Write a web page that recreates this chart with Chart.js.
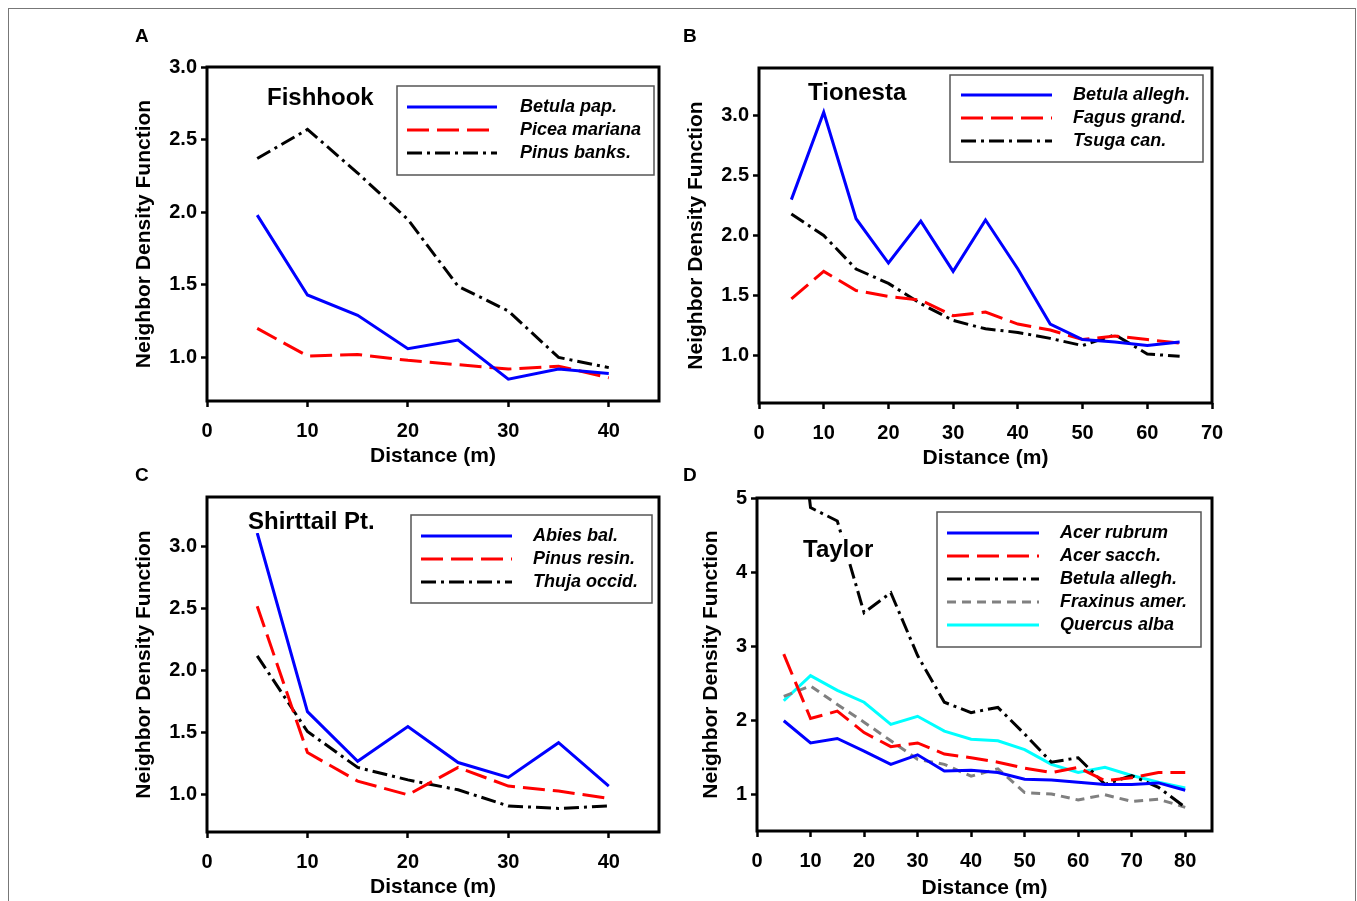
<!DOCTYPE html>
<html><head><meta charset="utf-8">
<script src="https://cdn.jsdelivr.net/npm/chart.js@4.4.0/dist/chart.umd.min.js"></script>
<style>
body{margin:0;background:#fff;}
#wrap{position:relative;width:1357px;height:901px;overflow:hidden;font-family:'Liberation Sans',Arial,sans-serif;background:#fff;}
canvas{position:absolute;left:0;top:0;}
.frame{position:absolute;left:8px;top:8px;width:1346px;height:900px;border:1px solid #777;border-bottom:none;}
.lab{position:absolute;font-weight:bold;color:#000;line-height:1;white-space:nowrap;}
.ttl{background:#fff;padding:0 1px;}
</style></head><body>
<div id="wrap">
<div class="frame"></div>
<canvas id="cA" width="1357" height="901"></canvas>
<canvas id="cB" width="1357" height="901"></canvas>
<canvas id="cC" width="1357" height="901"></canvas>
<canvas id="cD" width="1357" height="901"></canvas>
<div class="lab" style="left:135px;top:26px;font-size:19px">A</div>
<div class="lab" style="left:683px;top:26px;font-size:19px">B</div>
<div class="lab" style="left:135px;top:465px;font-size:19px">C</div>
<div class="lab" style="left:683px;top:465px;font-size:19px">D</div>
<div class="lab ttl" style="left:266px;top:85px;font-size:24px">Fishhook</div>
<div class="lab ttl" style="left:807px;top:80px;font-size:24px">Tionesta</div>
<div class="lab ttl" style="left:247px;top:509px;font-size:24px">Shirttail Pt.</div>
<div class="lab ttl" style="left:802px;top:537px;font-size:24px">Taylor</div>
</div>
<script>
// ---------- DATA ----------
const distA = [5,10,15,20,25,30,35,40];
const betulaPapA   = [1.98,1.43,1.29,1.06,1.12,0.85,0.92,0.89];
const piceaMarA    = [1.20,1.01,1.02,0.98,0.95,0.92,0.94,0.86];
const pinusBanksA  = [2.37,2.57,2.27,1.95,1.49,1.32,1.00,0.93];

const distB = [5,10,15,20,25,30,35,40,45,50,55,60,65];
const betulaAlleghB = [2.30,3.03,2.14,1.77,2.12,1.70,2.13,1.72,1.26,1.13,1.11,1.08,1.11];
const fagusGrandB   = [1.47,1.70,1.54,1.49,1.46,1.33,1.36,1.26,1.21,1.13,1.16,1.13,1.10];
const tsugaCanB     = [2.18,2.00,1.72,1.60,1.43,1.29,1.22,1.19,1.14,1.08,1.17,1.01,0.99];

const distC = [5,10,15,20,25,30,35,40];
const abiesBalC   = [3.11,1.67,1.27,1.55,1.26,1.14,1.42,1.07];
const pinusResinC = [2.52,1.34,1.11,1.00,1.22,1.07,1.03,0.97];
const thujaOccC   = [2.12,1.51,1.22,1.12,1.04,0.91,0.89,0.91];

const distD = [5,10,15,20,25,30,35,40,45,50,55,60,65,70,75,80];
const acerRubrumD  = [1.99,1.69,1.75,1.58,1.40,1.53,1.31,1.32,1.29,1.20,1.19,1.16,1.13,1.13,1.15,1.05];
const acerSacchD   = [2.89,2.02,2.12,1.83,1.64,1.69,1.54,1.49,1.43,1.35,1.29,1.36,1.18,1.22,1.29,1.29];
const betulaAlleghD= [8.0,4.87,4.69,3.45,3.72,2.87,2.24,2.10,2.17,1.81,1.43,1.49,1.13,1.25,1.09,0.82];
const fraxinusD    = [2.32,2.46,2.21,1.97,1.72,1.47,1.40,1.24,1.34,1.02,1.00,0.92,0.99,0.90,0.93,0.82];
const quercusD     = [2.26,2.60,2.40,2.24,1.94,2.05,1.85,1.74,1.72,1.60,1.40,1.29,1.36,1.25,1.16,1.08];

// ---------- STYLE ----------
Chart.defaults.font.family = "'Liberation Sans', Arial, sans-serif";
Chart.defaults.font.weight = 'bold';
Chart.defaults.color = '#000';

const BLUE='#0000ff', RED='#ff0000', BLACK='#000000', GRAY='#808080', CYAN='#00ffff';
const DASH=[22,8], DASHDOT=[15,5,3,5], SHORTDASH=[9,6];

function pts(xs, ys){ return xs.map((x,i)=>({x:x, y:ys[i]})); }
function ds(label, xs, ys, color, dash){
  return {label, data: pts(xs,ys), borderColor: color, backgroundColor: color,
          borderDash: dash||[], borderWidth: 3, pointRadius: 0, tension: 0, fill: false};
}

const framePlugin = {
  id: 'frameBox',
  afterDatasetsDraw(chart){
    const a = chart.chartArea, ctx = chart.ctx;
    ctx.save(); ctx.strokeStyle = '#000'; ctx.lineWidth = 3; ctx.setLineDash([]);
    ctx.strokeRect(a.left, a.top, a.right - a.left, a.bottom - a.top);
    ctx.restore();
  }
};
const legendPlugin = {
  id: 'boxLegend',
  afterDraw(chart, args, o){
    const ctx = chart.ctx;
    ctx.save();
    ctx.fillStyle = '#fff'; ctx.fillRect(o.x, o.y, o.w, o.h);
    ctx.strokeStyle = '#555'; ctx.lineWidth = 1.5; ctx.setLineDash([]);
    ctx.strokeRect(o.x, o.y, o.w, o.h);
    chart.data.datasets.forEach((d, i) => {
      const y = o.row0 + i * o.gap;
      ctx.beginPath(); ctx.setLineDash(d.borderDash || []);
      ctx.strokeStyle = d.borderColor; ctx.lineWidth = 3;
      ctx.moveTo(o.lx0, y); ctx.lineTo(o.lx1, y); ctx.stroke();
      ctx.setLineDash([]);
      ctx.fillStyle = '#000'; ctx.font = "italic bold 18px 'Liberation Sans', Arial, sans-serif";
      ctx.textBaseline = 'middle'; ctx.textAlign = 'left';
      ctx.fillText(d.label, o.tx, y);
    });
    ctx.restore();
  }
};

function makePanel(id, datasets, p){
  return new Chart(document.getElementById(id), {
    type: 'line',
    data: { datasets },
    plugins: [framePlugin, legendPlugin],
    options: {
      responsive: false, animation: false, events: [],
      layout: { padding: { left: p.padL, top: p.padT, right: p.padR, bottom: p.padB } },
      plugins: { legend: { display: false }, tooltip: { enabled: false }, boxLegend: p.legend },
      scales: {
        x: {
          type: 'linear', min: p.xmin, max: p.xmax,
          afterFit: s => { s.height = p.xH; },
          ticks: { stepSize: p.xstep, includeBounds: false, padding: 12, font: { size: 20, weight: 'bold' }, color: '#000', maxRotation: 0 },
          grid: { display: true, drawOnChartArea: false, drawTicks: true, tickLength: 6, tickWidth: 2.5, tickColor: '#000' },
          border: { display: false },
          title: { display: true, text: 'Distance (m)', font: { size: 21, weight: 'bold' }, color: '#000', padding: 0 }
        },
        y: {
          type: 'linear', min: p.ymin, max: p.ymax,
          afterFit: s => { s.width = p.yW; },
          ticks: { stepSize: p.ystep, includeBounds: false, padding: 4, font: { size: 20, weight: 'bold' }, color: '#000',
                   callback: v => p.yfmt(v) },
          grid: { display: true, drawOnChartArea: false, drawTicks: true, tickLength: 6, tickWidth: 2.5, tickColor: '#000' },
          border: { display: false },
          title: { display: true, text: 'Neighbor Density Function', font: { size: 21, weight: 'bold' }, color: '#000', padding: 0 }
        }
      }
    }
  });
}
const f1 = v => Number(v).toFixed(1);
const f0 = v => String(Math.round(v));

makePanel('cA', [
  ds('Betula pap.', distA, betulaPapA, BLUE),
  ds('Picea mariana', distA, piceaMarA, RED, DASH),
  ds('Pinus banks.', distA, pinusBanksA, BLACK, DASHDOT)
], { padL:132, padT:67, padR:698, padB:432, yW:75, xH:68, xmin:0, xmax:45, xstep:10, ymin:0.7, ymax:3.0, ystep:0.5, yfmt:f1,
     legend:{ x:397, y:86, w:257, h:89, row0:107, gap:23, lx0:407, lx1:497, tx:520 } });

makePanel('cB', [
  ds('Betula allegh.', distB, betulaAlleghB, BLUE),
  ds('Fagus grand.', distB, fagusGrandB, RED, DASH),
  ds('Tsuga can.', distB, tsugaCanB, BLACK, DASHDOT)
], { padL:684, padT:68, padR:145, padB:430, yW:75, xH:68, xmin:0, xmax:70, xstep:10, ymin:0.6, ymax:3.4, ystep:0.5, yfmt:f1,
     legend:{ x:950, y:75, w:253, h:87, row0:95, gap:23, lx0:961, lx1:1052, tx:1073 } });

makePanel('cC', [
  ds('Abies bal.', distC, abiesBalC, BLUE),
  ds('Pinus resin.', distC, pinusResinC, RED, DASH),
  ds('Thuja occid.', distC, thujaOccC, BLACK, DASHDOT)
], { padL:132, padT:497, padR:698, padB:1, yW:75, xH:68, xmin:0, xmax:45, xstep:10, ymin:0.7, ymax:3.4, ystep:0.5, yfmt:f1,
     legend:{ x:411, y:515, w:241, h:88, row0:536, gap:23, lx0:421, lx1:512, tx:533 } });

makePanel('cD', [
  ds('Acer rubrum', distD, acerRubrumD, BLUE),
  ds('Acer sacch.', distD, acerSacchD, RED, DASH),
  ds('Betula allegh.', distD, betulaAlleghD, BLACK, DASHDOT),
  ds('Fraxinus amer.', distD, fraxinusD, GRAY, SHORTDASH),
  ds('Quercus alba', distD, quercusD, CYAN)
], { padL:699, padT:498, padR:145, padB:0, yW:58, xH:70, xmin:0, xmax:85, xstep:10, ymin:0.5, ymax:5, ystep:1, yfmt:f0,
     legend:{ x:937, y:512, w:264, h:135, row0:533, gap:23, lx0:947, lx1:1039, tx:1060 } });
</script>
</body></html>
